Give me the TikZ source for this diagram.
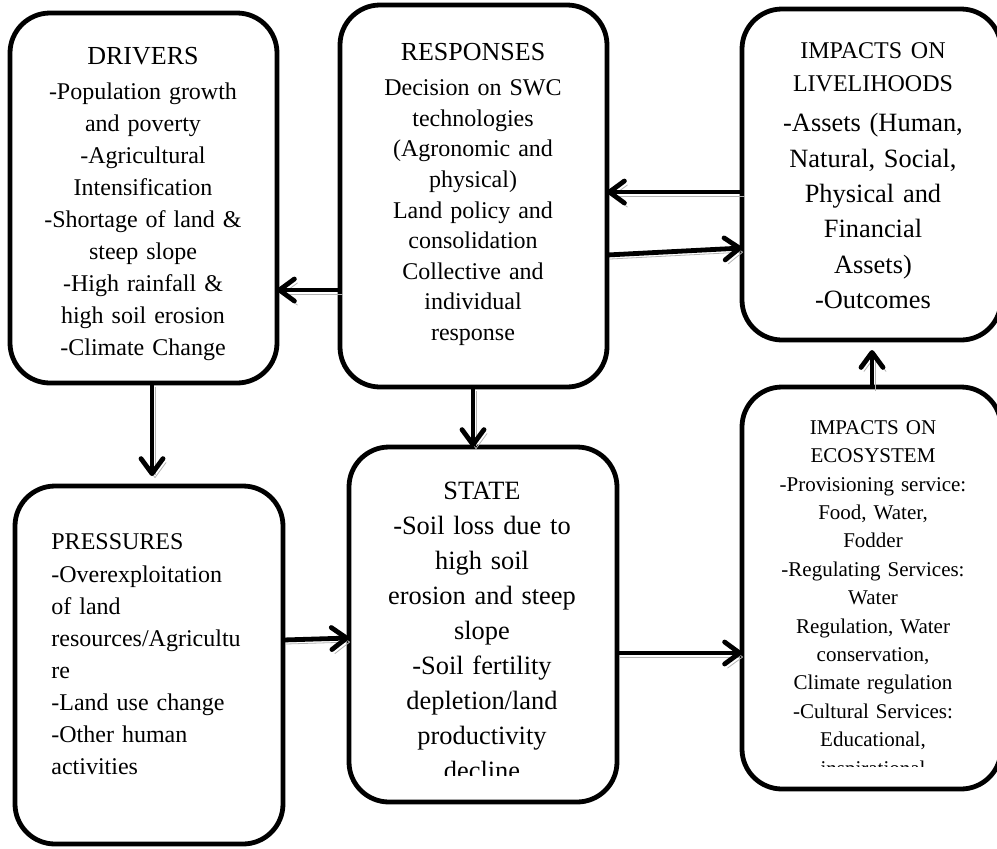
\documentclass[tikz,border=0pt]{standalone}
\usepackage{fontspec}
\setmainfont{Liberation Serif}
\usepackage{tikz}
\usetikzlibrary{positioning, arrows.meta}

\tikzset{
    box/.style={draw, line width=2.4pt, rounded corners=20pt, inner sep=0pt, outer sep=0pt},
    txt/.style={inner sep=0pt, anchor=north, align=center, text width=128pt},
    barb/.style={-{Straight Barb[length=7.5pt, width=11pt, line width=2.4pt, round]}},
    flow/.style={line width=2.4pt, barb,
        preaction={draw=black!30, barb, transform canvas={shift={(1.5pt,-2pt)}}}}
}

\begin{document}
\begin{tikzpicture}[x=0.5pt, y=-0.5pt]
    \useasboundingbox (0,0) rectangle (997,848);

    % the six boxes
    \node (drivers) [box, minimum width=133.5pt, minimum height=185pt] at (143.5,198) {};
    \node (responses) [box, minimum width=133.5pt, minimum height=191pt] at (473.5,196) {};
    \node (livelihoods) [box, minimum width=129.5pt, minimum height=165.5pt] at (871.5,174.5) {};
    \node (ecosystem) [box, minimum width=129.5pt, minimum height=201pt] at (871.5,588) {};
    \node (pressures) [box, minimum width=134pt, minimum height=179pt] at (149,665) {};
    \node (state) [box, minimum width=134pt, minimum height=177.5pt] at (483,624.5) {};

    % texts
    \node (driversText) [txt, font=\fontsize{12}{16}\selectfont] at (143,47)
        {{\fontsize{13}{16}\selectfont DRIVERS\par}\vspace{1.5pt}
        -Population growth\\and poverty\\-Agricultural\\Intensification\\-Shortage of land \&\\steep slope\\-High rainfall \&\\high soil erosion\\-Climate Change};
    \node (responsesText) [txt, font=\fontsize{12}{15.3}\selectfont] at (473,43)
        {{\fontsize{13}{16}\selectfont RESPONSES\par}\vspace{2.2pt}
        Decision on SWC\\technologies\\(Agronomic and\\physical)\\Land policy and\\consolidation\\Collective and\\individual\\response};
    \node (livelihoodsText) [txt, font=\fontsize{13.2}{17.7}\selectfont] at (873,42)
        {{\fontsize{12}{16.7}\selectfont IMPACTS ON\\LIVELIHOODS\par}\vspace{2.3pt}
        -Assets (Human,\\Natural, Social,\\Physical and\\Financial\\Assets)\\-Outcomes};
    \node (pressuresText) [txt, anchor=north west, align=left, text width=118pt, font=\fontsize{12}{16}\selectfont] at (51,533)
        {PRESSURES\par\vspace{0.7pt}
        -Overexploitation\\of land\\resources/Agricultu\\re\\-Land use change\\-Other human\\activities};

    \begin{scope}
        \clip (349,447) rectangle (617,775);
        \node (stateText) [txt, font=\fontsize{13.2}{17.5}\selectfont] at (482,482)
            {STATE\\-Soil loss due to\\high soil\\erosion and steep\\slope\\-Soil fertility\\depletion/land\\productivity\\decline};
    \end{scope}
    \begin{scope}
        \clip (742,387) rectangle (1001,766);
        \node (ecosystemText) [txt, font=\fontsize{10.5}{14.2}\selectfont] at (873,420)
            {IMPACTS ON\\ECOSYSTEM\\-Provisioning service:\\Food, Water,\\Fodder\\-Regulating Services:\\Water\\Regulation, Water\\conservation,\\Climate regulation\\-Cultural Services:\\Educational,\\inspirational};
    \end{scope}

    % connectors
    \draw [flow] (responses.west |- 0,290) -- (drivers.east |- 0,290);
    \draw [flow] (livelihoods.west |- 0,192) -- (responses.east |- 0,192);
    \draw [flow] (responses.east |- 0,255) -- (livelihoods.west |- 0,248);
    \draw [flow, shorten >=5pt] (drivers.south -| 152,0) -- (pressures.north -| 152,0);
    \draw [flow] (responses.south -| 473,0) -- (state.north -| 473,0);
    \draw [flow] (pressures.east |- 0,640) -- (state.west |- 0,638);
    \draw [flow] (state.east |- 0,653) -- (ecosystem.west |- 0,653);
    \draw [flow, shorten >=5pt] (ecosystem.north -| 872,0) -- (livelihoods.south -| 872,0);
\end{tikzpicture}
\end{document}
